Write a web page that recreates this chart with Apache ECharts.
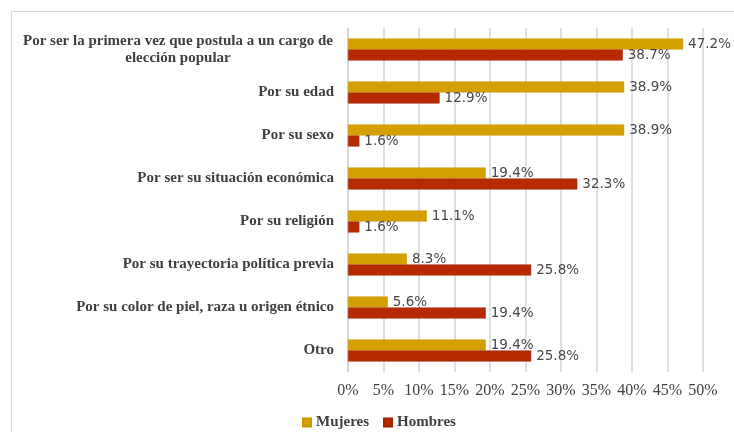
<!DOCTYPE html>
<html>
<head>
<meta charset="utf-8">
<script src="https://cdn.jsdelivr.net/npm/echarts@6/dist/echarts.min.js"></script>
<style>
  html, body { margin: 0; padding: 0; background: #fff; }
  #chart { width: 734px; height: 432px; }
</style>
</head>
<body>
<div id="chart"></div>
<script>
// categories, top to bottom
const categories = [
  "Por ser la primera vez que postula a un cargo de\nelección popular",
  "Por su edad",
  "Por su sexo",
  "Por ser su situación económica",
  "Por su religión",
  "Por su trayectoria política previa",
  "Por su color de piel, raza u origen étnico",
  "Otro"
];
const mujeres = [47.2, 38.9, 38.9, 19.4, 11.1, 8.3, 5.6, 19.4];
const hombres = [38.7, 12.9, 1.6, 32.3, 1.6, 25.8, 19.4, 25.8];
const seriesNames = ["Mujeres", "Hombres"];

const serif = "'Liberation Serif', serif";
const sans = "'DejaVu Sans', sans-serif";

const myChart = echarts.init(document.getElementById("chart"));

const valueLabel = {
  show: true,
  position: "right",
  distance: 5,
  formatter: p => p.value.toFixed(1) + "%",
  fontFamily: sans,
  fontSize: 13.5,
  color: "#484848"
};

myChart.setOption({
  animation: false,
  graphic: [{
    type: "rect",
    shape: { x: 11.5, y: 11.5, width: 740, height: 440 },
    style: { fill: "none", stroke: "#d9d9d9", lineWidth: 1 },
    silent: true
  }],
  grid: { left: 348, right: 31, top: 28, bottom: 60 },
  legend: {
    top: 410,
    left: 297,
    itemWidth: 8,
    itemHeight: 8,
    itemGap: 14,
    icon: "rect",
    data: seriesNames,
    textStyle: { fontFamily: serif, fontSize: 15, color: "#404040", fontWeight: "bold" }
  },
  xAxis: {
    type: "value",
    min: 0,
    max: 50,
    interval: 5,
    axisLine: { show: false },
    axisTick: { show: false },
    splitLine: { lineStyle: { color: "#d6d6d6", width: 1.5 } },
    axisLabel: {
      formatter: "{value}%",
      margin: 11,
      fontFamily: serif,
      fontSize: 16,
      color: "#404040"
    }
  },
  yAxis: {
    type: "category",
    inverse: true,
    data: categories,
    axisTick: { show: false },
    axisLine: { lineStyle: { color: "#d6d6d6", width: 1.5 } },
    axisLabel: {
      margin: 14,
      fontFamily: serif,
      fontSize: 15,
      fontWeight: "bold",
      color: "#404040",
      lineHeight: 17,
      formatter: v => v.indexOf("\n") >= 0
        ? v.split("\n").map(s => "{c|" + s + "}").join("\n")
        : v,
      rich: {
        c: {
          width: 312,
          align: "center",
          fontFamily: serif,
          fontSize: 15,
          fontWeight: "bold",
          color: "#404040",
          lineHeight: 17
        }
      }
    }
  },
  series: [
    {
      name: seriesNames[0],
      type: "bar",
      data: mujeres,
      barWidth: 11,
      barGap: "0%",
      itemStyle: { color: "#D4A000", borderColor: "#C89600", borderWidth: 0.5 },
      label: valueLabel
    },
    {
      name: seriesNames[1],
      type: "bar",
      data: hombres,
      barWidth: 11,
      itemStyle: { color: "#B52A00", borderColor: "#9E2200", borderWidth: 0.5 },
      label: valueLabel
    }
  ]
});
</script>
</body>
</html>
